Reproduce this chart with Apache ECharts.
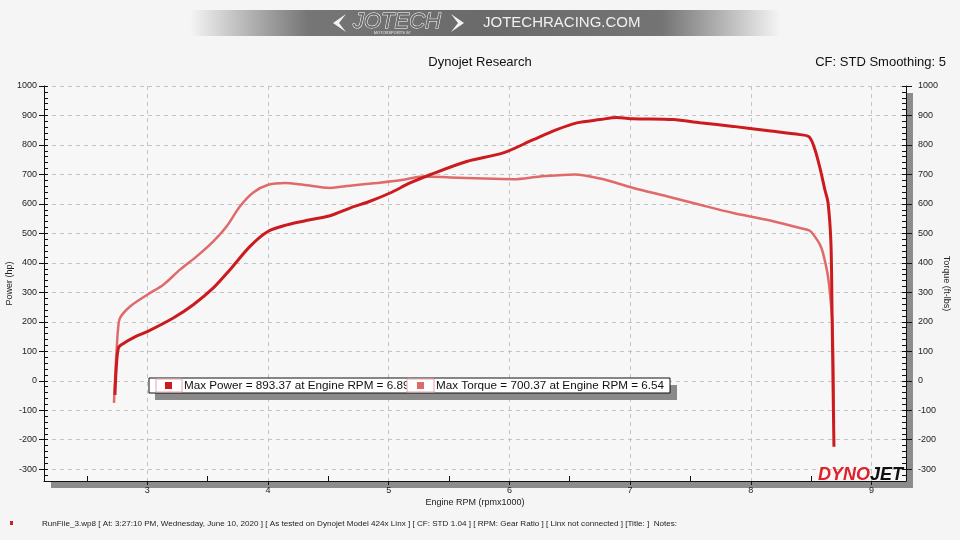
<!DOCTYPE html>
<html>
<head>
<meta charset="utf-8">
<script src="https://cdn.jsdelivr.net/npm/echarts@6/dist/echarts.min.js"></script>
<style>
html,body{margin:0;padding:0;background:#f5f5f5;}
#chart{width:960px;height:540px;}
</style>
</head>
<body>
<div id="chart"></div>
<script>
// ---- data ----
var POWER_RPM = [2.732,2.741,2.760,2.799,2.898,3.000,3.215,3.381,3.547,3.685,3.851,4.002,4.155,4.348,4.514,4.679,4.845,5.011,5.177,5.342,5.646,5.949,6.198,6.392,6.558,6.751,6.890,7.027,7.358,7.579,7.855,8.132,8.408,8.485,8.532,8.573,8.614,8.640,8.664,8.673,8.681,8.689];
var POWER_HP  = [-48,31,111,126,149,167,213,258,315,377,456,507,529,546,560,586,609,637,671,699,744,773,818,852,875,886,893,889,886,875,863,849,835,827,784,722,648,604,468,241,3,-224];
var TORQUE_RPM = [2.724,2.732,2.746,2.757,2.774,2.857,3.000,3.133,3.271,3.409,3.547,3.658,3.768,3.878,4.002,4.141,4.292,4.514,4.679,4.901,5.094,5.287,5.508,5.784,6.032,6.254,6.540,6.751,7.027,7.303,7.579,7.855,8.132,8.408,8.490,8.531,8.573,8.598,8.640,8.673,8.681,8.689];
var TORQUE_FTLB = [-75,3,105,173,213,252,292,326,377,422,473,524,592,639,665,671,665,654,662,671,680,693,690,686,684,693,700,686,654,626,597,569,546,518,509,489,462,434,353,217,129,-143];
var X_MIN = 2.144, X_MAX = 9.286;
var Y_MIN = -340, Y_MAX = 1000;
var X_HALF_TICKS = [2.5,3.5,4.5,5.5,6.5,7.5,8.5];
var LEGEND_TEXT = ['Max Power = 893.37 at Engine RPM = 6.89','Max Torque = 700.37 at Engine RPM = 6.54'];
var TITLE = 'Dynojet Research';
var CF_TEXT = 'CF: STD Smoothing: 5';
var FOOTER = 'RunFile_3.wp8 [ At: 3:27:10 PM, Wednesday, June 10, 2020 ] [ As tested on Dynojet Model 424x Linx ] [ CF: STD 1.04 ] [ RPM: Gear Ratio ] [ Linx not connected ] [Title: ]  Notes:';

var yMinor = [];
for (var v = Y_MIN; v <= Y_MAX; v += 20) yMinor.push(v);

function pairs(xs, ys){ return xs.map(function(x,i){ return [x, ys[i]]; }); }
function plain(v){ return String(v); }

var FONT = 'Liberation Sans';
var POWER_COLOR = '#cc1b1f';
var TORQUE_COLOR = '#e06a6a';
var GRID_LINE = {show:true, lineStyle:{color:'#c4c4c4', type:[4,4], width:1}};

var chart = echarts.init(document.getElementById('chart'), null, {renderer:'canvas'});
var option = {
  animation:false,
  backgroundColor:'#f5f5f5',
  textStyle:{fontFamily:FONT},
  grid:{left:44, right:54, top:86, bottom:59, containLabel:false, outerBoundsMode:'none',
        show:true, backgroundColor:'#f7f7f7', borderWidth:0,
        shadowColor:'#8c8c8c', shadowBlur:0, shadowOffsetX:7, shadowOffsetY:7},
  xAxis:[{
    type:'value', min:X_MIN, max:X_MAX, minInterval:1, maxInterval:1, position:'bottom',
    axisLine:{show:true, onZero:false, lineStyle:{color:'#111', width:1}},
    axisTick:{show:true, inside:false, length:4, lineStyle:{color:'#111'}},
    axisLabel:{fontSize:9, color:'#222', margin:5, showMinLabel:false, showMaxLabel:false, fontFamily:FONT, formatter:plain},
    splitLine:GRID_LINE,
    name:'Engine RPM (rpmx1000)', nameLocation:'middle', nameGap:17, nameMoveOverlap:false,
    nameTextStyle:{fontSize:9, color:'#222', fontFamily:FONT}
  },{
    type:'value', min:X_MIN, max:X_MAX, position:'bottom',
    axisLine:{show:false, onZero:false}, axisLabel:{show:false}, splitLine:{show:false},
    axisTick:{show:true, inside:true, length:5, customValues:X_HALF_TICKS, lineStyle:{color:'#111'}}
  }],
  yAxis:[{
    type:'value', min:Y_MIN, max:Y_MAX, minInterval:100, maxInterval:100, position:'left',
    axisLine:{show:true, onZero:false, lineStyle:{color:'#111', width:1}},
    axisTick:{show:true, inside:false, length:5, lineStyle:{color:'#111'}},
    axisLabel:{fontSize:9, color:'#222', margin:7, showMinLabel:false, fontFamily:FONT, formatter:plain},
    splitLine:GRID_LINE,
    name:'Power (hp)', nameLocation:'middle', nameGap:30, nameMoveOverlap:false,
    nameTextStyle:{fontSize:9, color:'#222', fontFamily:FONT}
  },{
    type:'value', min:Y_MIN, max:Y_MAX, minInterval:100, maxInterval:100, position:'right',
    axisLine:{show:true, onZero:false, lineStyle:{color:'#111', width:1}},
    axisTick:{show:true, inside:false, length:6, lineStyle:{color:'#111'}},
    axisLabel:{fontSize:9, color:'#222', margin:12, showMinLabel:false, fontFamily:FONT, formatter:plain},
    splitLine:{show:false},
    name:'Torque (ft-lbs)', nameLocation:'middle', nameGap:36, nameRotate:-90, nameMoveOverlap:false,
    nameTextStyle:{fontSize:9, color:'#222', fontFamily:FONT}
  },{
    type:'value', min:Y_MIN, max:Y_MAX, position:'left',
    axisLine:{show:false, onZero:false}, axisLabel:{show:false}, splitLine:{show:false},
    axisTick:{show:true, inside:true, length:4, customValues:yMinor, lineStyle:{color:'#111'}}
  },{
    type:'value', min:Y_MIN, max:Y_MAX, position:'right',
    axisLine:{show:false, onZero:false}, axisLabel:{show:false}, splitLine:{show:false},
    axisTick:{show:true, inside:true, length:4, customValues:yMinor, lineStyle:{color:'#111'}}
  }],
  series:[{
    name:'Torque', type:'line', xAxisIndex:0, yAxisIndex:1, showSymbol:false, symbol:'none',
    smooth:0.3,
    lineStyle:{color:TORQUE_COLOR, width:2.5}, itemStyle:{color:TORQUE_COLOR},
    data:pairs(TORQUE_RPM, TORQUE_FTLB)
  },{
    name:'Power', type:'line', xAxisIndex:0, yAxisIndex:0, showSymbol:false, symbol:'none',
    smooth:0.3,
    lineStyle:{color:POWER_COLOR, width:3}, itemStyle:{color:POWER_COLOR},
    data:pairs(POWER_RPM, POWER_HP)
  }],
  graphic:[
    // top banner
    {type:'rect', shape:{x:190, y:10, width:590, height:26}, z:1,
     style:{fill:{type:'linear', x:0, y:0, x2:1, y2:0, colorStops:[
        {offset:0, color:'rgba(110,110,110,0)'},{offset:0.2, color:'#767676'},
        {offset:0.5, color:'#6a6a6a'},{offset:0.8, color:'#747474'},{offset:1, color:'rgba(110,110,110,0)'}]}}},
    {type:'polygon', z:2, shape:{points:[[346,14],[333,23],[346,32],[339,23]]}, style:{fill:'#f2f2f2'}},
    {type:'polygon', z:2, shape:{points:[[451,14],[464,23],[451,32],[458,23]]}, style:{fill:'#f2f2f2'}},
    {type:'text', z:2, x:397, y:22, style:{text:'JOTECH', fontFamily:FONT, fontStyle:'italic', fontSize:22,
      fill:'#6b6b6b', stroke:'#ffffff', lineWidth:1, align:'center', verticalAlign:'middle'}},
    {type:'text', z:2, x:392, y:33, style:{text:'MOTORSPORTS ////', fontFamily:FONT, fontSize:4,
      fill:'#eeeeee', align:'center', verticalAlign:'middle'}},
    {type:'text', z:2, x:483, y:23, style:{text:'JOTECHRACING.COM', fontFamily:FONT, fontSize:15,
      fill:'#f0f0f0', align:'left', verticalAlign:'middle'}},
    // titles
    {type:'text', x:480, y:62, style:{text:TITLE, fontFamily:FONT, fontSize:13, fill:'#111', align:'center', verticalAlign:'middle'}},
    {type:'text', x:946, y:62, style:{text:CF_TEXT, fontFamily:FONT, fontSize:13, fill:'#111', align:'right', verticalAlign:'middle'}},
    // legend box
    {type:'rect', z:20, shape:{x:155, y:385, width:522, height:15}, style:{fill:'#8a8a8a'}},
    {type:'rect', z:21, shape:{x:149, y:378, width:521, height:15}, style:{fill:'#ffffff', stroke:'#111', lineWidth:1}},
    {type:'rect', z:22, shape:{x:156, y:379, width:26, height:13}, style:{fill:'#ffffff', stroke:'#e3a8a8', lineWidth:1}},
    {type:'rect', z:23, shape:{x:165, y:382, width:7, height:7}, style:{fill:POWER_COLOR}},
    {type:'text', z:23, x:184, y:386, style:{text:LEGEND_TEXT[0], fontFamily:FONT, fontSize:11.7, fill:'#111', verticalAlign:'middle'}},
    {type:'rect', z:24, shape:{x:407, y:379, width:27, height:13}, style:{fill:'#ffffff', stroke:'#e3a8a8', lineWidth:1}},
    {type:'rect', z:25, shape:{x:417, y:382, width:7, height:7}, style:{fill:TORQUE_COLOR}},
    {type:'text', z:25, x:436, y:386, style:{text:LEGEND_TEXT[1], fontFamily:FONT, fontSize:11.7, fill:'#111', verticalAlign:'middle'}},
    // dynojet logo
    {type:'text', z:30, x:818, y:475, style:{text:'DYNO', fontFamily:FONT, fontWeight:'bold', fontStyle:'italic', fontSize:18, fill:'#e0202a', verticalAlign:'middle'}},
    {type:'text', z:30, x:870, y:475, style:{text:'JET', fontFamily:FONT, fontWeight:'bold', fontStyle:'italic', fontSize:18, fill:'#111', verticalAlign:'middle'}},
    // footer
    {type:'rect', shape:{x:10, y:521, width:3, height:4}, style:{fill:'#d02020'}},
    {type:'text', x:42, y:524, style:{text:FOOTER, fontFamily:FONT, fontSize:8.1, fill:'#222', verticalAlign:'middle'}}
  ]
};
chart.setOption(option);
</script>
</body>
</html>
